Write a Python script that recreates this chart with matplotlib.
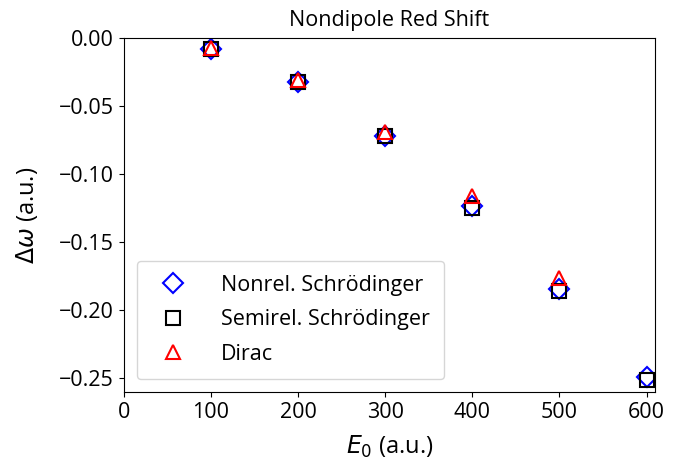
import matplotlib
matplotlib.use("Agg")
import matplotlib.pyplot as plt

plt.rcParams['font.family'] = ['Open Sans', 'DejaVu Sans']

e0 = [100, 200, 300, 400, 500, 600]
nonrel = [-0.008, -0.032, -0.072, -0.1235, -0.1846, -0.249]
semirel = [-0.008, -0.032, -0.072, -0.125, -0.186, -0.2515]
e0_dirac = [100, 200, 300, 400, 500]
dirac = [-0.007, -0.031, -0.069, -0.116, -0.176]

fig = plt.figure(figsize=(6.84, 4.70), dpi=100)
ax = fig.add_axes([0.181, 0.166, 0.777, 0.753])

ax.plot(e0, nonrel, 'D', ms=10, mfc='none', mec='blue', mew=1.5,
        label='Nonrel. Schrödinger')
ax.plot(e0, semirel, 's', ms=10, mfc='none', mec='black', mew=1.5,
        label='Semirel. Schrödinger')
ax.plot(e0_dirac, dirac, '^', ms=10, mfc='none', mec='red', mew=1.5,
        label='Dirac')

ax.set_xlim(0, 610)
ax.set_ylim(-0.26, 0.0)
ax.set_xticks([0, 100, 200, 300, 400, 500, 600])
ax.set_yticks([0.0, -0.05, -0.10, -0.15, -0.20, -0.25])
ax.yaxis.set_major_formatter(
    matplotlib.ticker.FuncFormatter(lambda v, p: f'{v:.2f}'.replace('-', '\u2212')))
ax.tick_params(labelsize=15.5)

ax.set_xlabel(r'$E_0$ (a.u.)', fontsize=17, labelpad=8)
ax.set_ylabel(r'$\Delta\omega$ (a.u.)', fontsize=17, labelpad=14)
ax.set_title('Nondipole Red Shift', fontsize=15.5, pad=9)

ax.legend(loc='lower left', fontsize=15.5, handletextpad=1.23,
          borderpad=0.67, labelspacing=0.62, handlelength=2.0,
          borderaxespad=0.6)

plt.savefig('out.png', dpi=100)
